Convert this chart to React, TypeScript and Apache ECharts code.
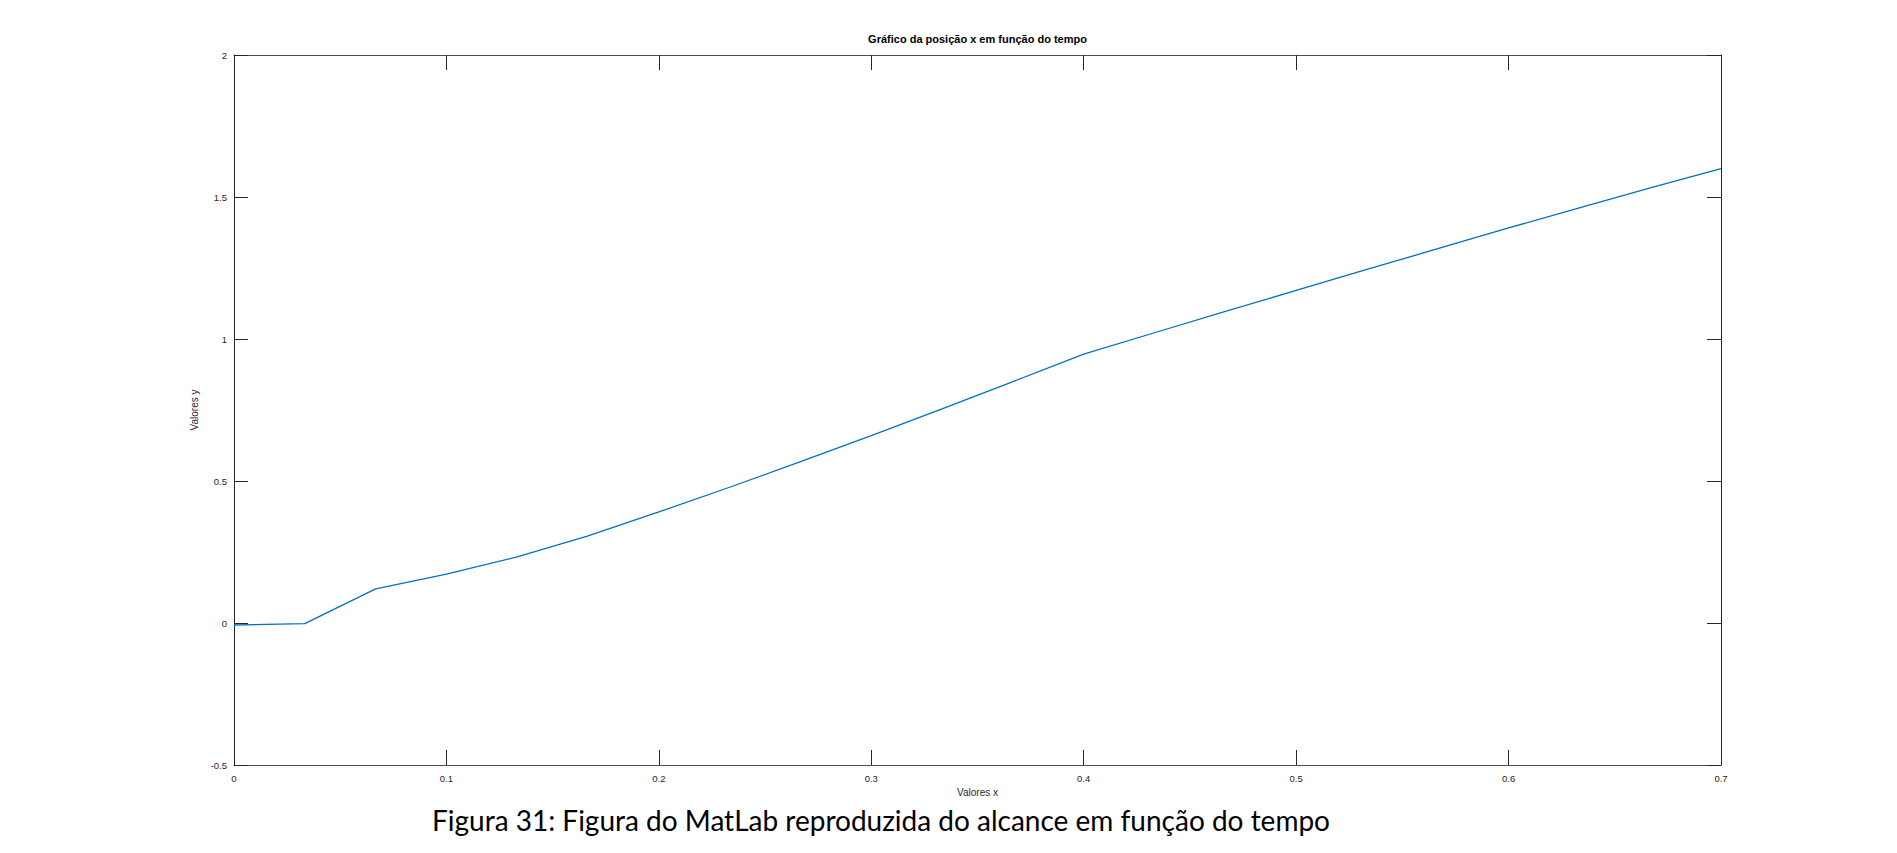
import React, { useEffect, useRef } from "react";
import * as echarts from "echarts";

const chartTitle = "Gráfico da posição x em função do tempo";
const xName = "Valores x";
const yName = "Valores y";
const caption = "Figura 31: Figura do MatLab reproduzida do alcance em função do tempo";

const times = [
  0, 0.0333, 0.0667, 0.1, 0.1333, 0.1667, 0.2, 0.2333, 0.2667, 0.3, 0.3333,
  0.3667, 0.4, 0.4333, 0.4667, 0.5, 0.5333, 0.5667, 0.6, 0.6333, 0.6667, 0.7,
];
const positions = [
  -0.007, -0.002, 0.12, 0.172, 0.233, 0.307, 0.391, 0.478, 0.568, 0.66, 0.754,
  0.85, 0.947, 1.022, 1.097, 1.171, 1.245, 1.318, 1.391, 1.462, 1.532, 1.6,
];

const xMin = 0;
const xMax = 0.7;
const xStep = 0.1;
const yMin = -0.5;
const yMax = 2;
const yStep = 0.5;

export default function App() {
  const ref = useRef<HTMLDivElement>(null);

  useEffect(() => {
    if (!ref.current) return;
    const chart = echarts.init(ref.current, null, { renderer: "svg" });
    const font = "'Liberation Sans', Arial, Helvetica, sans-serif";
    const tickColor = "#262626";
    const gridLeft = 234;
    const gridTop = 55;
    const gridRight = 176;
    const gridBottom = 88;

    const xAxisCommon = {
      type: "value",
      min: xMin,
      max: xMax,
      interval: xStep,
      splitLine: { show: false },
      axisTick: { show: true, inside: true, length: 15, lineStyle: { color: tickColor, width: 1 } },
    };
    const yAxisCommon = {
      type: "value",
      min: yMin,
      max: yMax,
      interval: yStep,
      splitLine: { show: false },
      axisTick: { show: true, inside: true, length: 14, lineStyle: { color: tickColor, width: 1 } },
    };

    chart.setOption({
      animation: false,
      backgroundColor: "#ffffff",
      grid: { left: gridLeft, top: gridTop, right: gridRight, bottom: gridBottom, containLabel: false },
      xAxis: [
        {
          ...xAxisCommon,
          position: "bottom",
          axisLine: { show: true, onZero: false, lineStyle: { color: "#4d4d4d", width: 1 } },
          axisLabel: { show: true, color: tickColor, fontSize: 9.5, fontFamily: font, margin: 8 },
          name: xName,
          nameLocation: "middle",
          nameGap: 21,
          nameTextStyle: { color: tickColor, fontSize: 10, fontFamily: font },
        },
        {
          ...xAxisCommon,
          position: "top",
          axisLine: { show: true, onZero: false, lineStyle: { color: "#4d4d4d", width: 1 } },
          axisLabel: { show: false },
        },
      ],
      yAxis: [
        {
          ...yAxisCommon,
          position: "left",
          axisLine: { show: true, onZero: false, lineStyle: { color: tickColor, width: 1 } },
          axisLabel: { show: true, color: tickColor, fontSize: 9.5, fontFamily: font, margin: 7 },
          name: yName,
          nameLocation: "middle",
          nameGap: 17,
          nameTextStyle: { color: tickColor, fontSize: 10, fontFamily: font },
        },
        {
          ...yAxisCommon,
          position: "right",
          axisLine: { show: true, onZero: false, lineStyle: { color: tickColor, width: 1 } },
          axisLabel: { show: false },
        },
      ],
      series: [
        {
          type: "line",
          xAxisIndex: 0,
          yAxisIndex: 0,
          data: times.map((t, i) => [t, positions[i]]),
          showSymbol: false,
          symbol: "none",
          lineStyle: { color: "#0072BD", width: 1.3 },
        },
      ],
      graphic: [
        {
          type: "text",
          x: 977.5,
          y: 39,
          style: {
            text: chartTitle,
            fill: "#000000",
            font: `bold 11px ${font}`,
            textAlign: "center",
            textVerticalAlign: "middle",
          },
        },
        {
          type: "text",
          x: 881,
          y: 820,
          style: {
            text: caption,
            fill: "#000000",
            font: `28px Lato, 'Open Sans', sans-serif`,
            textAlign: "center",
            textVerticalAlign: "middle",
          },
        },
      ],
    });

    return () => {
      chart.dispose();
    };
  }, []);

  return (
    <div
      ref={ref}
      style={{ position: "absolute", left: 0, top: 0, width: 1897, height: 853 }}
    />
  );
}
